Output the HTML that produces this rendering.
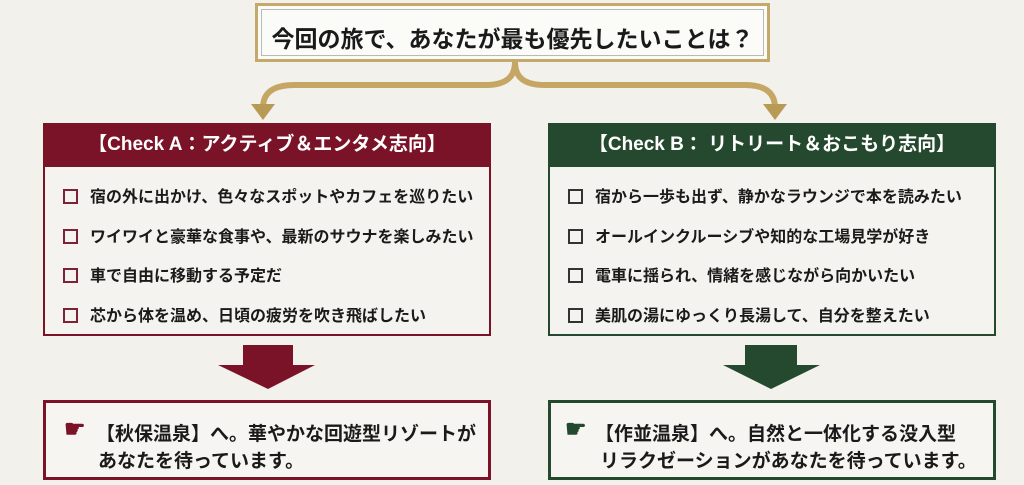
<!DOCTYPE html>
<html><head><meta charset="utf-8"><style>
*{margin:0;padding:0;box-sizing:border-box}
body{width:1024px;height:485px;background:#f2f1ec;position:relative;overflow:hidden;font-family:"Liberation Sans","Noto Sans CJK JP",sans-serif;font-weight:bold;color:#1a1a1a}
.a{position:absolute}
.title{left:255px;top:3px;width:515px;height:59px;border:3px solid #c4a96a;background:#fbfbf8;box-shadow:inset 0 0 0 3px #fbfbf8,inset 0 0 0 4px #b9b9b9}
.title span{position:absolute;left:0;right:0;top:14px;text-align:center;font-size:23px}
.panel{top:123px;width:448px;height:213px;border:2px solid;background:#f4f3ef}
.hd{height:42px;color:#fff;font-size:19px;text-align:center;line-height:40px}
.item{position:absolute;left:18px;font-size:16px;white-space:nowrap}
.cb{display:inline-block;width:15px;height:15px;border:2px solid #7d2236;vertical-align:-2px;margin-right:12px}
.res{top:400px;width:448px;height:80px;border:3px solid;background:#f6f5f1;font-size:19px}
.res div{position:absolute;white-space:nowrap}
</style></head><body>
<svg class="a" style="left:0;top:0" width="1024" height="485">
<path d="M515 62 C515 78 505 85 485 85 L295 85 C270 85 263 95 263 108" fill="none" stroke="#c6a664" stroke-width="6"/>
<path d="M515 62 C515 78 525 85 545 85 L745 85 C768 85 775 95 775 108" fill="none" stroke="#c6a664" stroke-width="6"/>
<polygon points="251,104 275,104 263,120" fill="#b89a55"/>
<polygon points="763,104 787,104 775,120" fill="#b89a55"/>
<polygon points="243,345 293,345 293,365 315,365 268,389 218,365 243,365" fill="#7b1328"/>
<polygon points="745,345 797,345 797,365 820,365 771,389 723,365 745,365" fill="#25492f"/>
</svg>
<div class="a title"><span>今回の旅で、あなたが最も優先したいことは？</span></div>
<div class="a panel" style="left:43px;border-color:#7b1328">
<div class="hd" style="background:#7b1328">【Check A：アクティブ＆エンタメ志向】</div>
<div class="item" style="top:58px"><span class="cb"></span>宿の外に出かけ、色々なスポットやカフェを巡りたい</div>
<div class="item" style="top:98px"><span class="cb"></span>ワイワイと豪華な食事や、最新のサウナを楽しみたい</div>
<div class="item" style="top:137px"><span class="cb"></span>車で自由に移動する予定だ</div>
<div class="item" style="top:177px"><span class="cb"></span>芯から体を温め、日頃の疲労を吹き飛ばしたい</div>
</div>
<div class="a panel" style="left:548px;border-color:#25492f">
<div class="hd" style="background:#25492f">【Check B： リトリート＆おこもり志向】</div>
<div class="item" style="top:58px"><span class="cb" style="border-color:#333"></span>宿から一歩も出ず、静かなラウンジで本を読みたい</div>
<div class="item" style="top:98px"><span class="cb" style="border-color:#333"></span>オールインクルーシブや知的な工場見学が好き</div>
<div class="item" style="top:137px"><span class="cb" style="border-color:#333"></span>電車に揺られ、情緒を感じながら向かいたい</div>
<div class="item" style="top:177px"><span class="cb" style="border-color:#333"></span>美肌の湯にゆっくり長湯して、自分を整えたい</div>
</div>
<div class="a res" style="left:43px;border-color:#7b1328">
<div style="left:18px;top:12px;color:#7b1328;font-size:24px">☛</div>
<div style="left:50px;top:16px">【秋保温泉】へ。華やかな回遊型リゾートが</div>
<div style="left:52px;top:43px">あなたを待っています。</div>
</div>
<div class="a res" style="left:548px;border-color:#25492f">
<div style="left:14px;top:12px;color:#25492f;font-size:24px">☛</div>
<div style="left:44px;top:16px">【作並温泉】へ。自然と一体化する没入型</div>
<div style="left:49px;top:43px">リラクゼーションがあなたを待っています。</div>
</div>
</body></html>
